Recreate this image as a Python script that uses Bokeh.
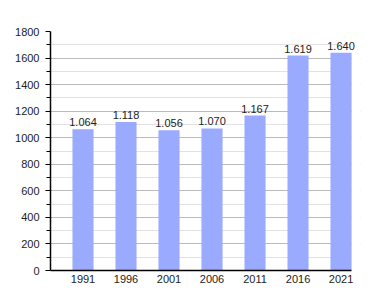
from bokeh.plotting import figure
from bokeh.models import ColumnDataSource, FixedTicker, Range1d, LabelSet, BoxAnnotation
from bokeh.core.properties import value
from bokeh.embed import file_html
from bokeh.resources import INLINE

years = ["1991", "1996", "2001", "2006", "2011", "2016", "2021"]
population = [1064, 1118, 1056, 1070, 1167, 1619, 1640]
y_ticks = [0, 200, 400, 600, 800, 1000, 1200, 1400, 1600, 1800]

xs = list(range(len(years)))
labels = [f"{v:,}".replace(",", ".") for v in population]
src = ColumnDataSource(dict(x=xs, y=population, label=labels))

x_start, x_end = -0.756, 6.244   # plotted area (bars span to x_end)
x_view_end = 6.453               # a little room so the last label is not cut

p = figure(width=380, height=300, output_backend="svg", toolbar_location=None,
           x_range=Range1d(x_start, x_view_end), y_range=Range1d(0, 1800),
           min_border_left=50, min_border_right=20, min_border_top=31,
           min_border_bottom=30)
p.outline_line_color = None
p.background_fill_color = "white"
p.border_fill_color = "white"

# hide grid lines beyond the plotted area
p.add_layout(BoxAnnotation(left=x_end, fill_color="white", fill_alpha=1,
                           line_color=None, level="underlay"))

p.vbar(x="x", top="y", width=0.49, source=src, color="#99aaff", line_color=None)
p.add_layout(LabelSet(x="x", y="y", text="label", source=src, text_align="center",
                      text_baseline="bottom", y_offset=3,
                      text_font=value("Liberation Sans"), text_font_size="11px",
                      text_color="#222222"))

p.xaxis.ticker = FixedTicker(ticks=xs)
p.xaxis.bounds = (x_start, x_end)
p.xaxis.major_label_overrides = {i: y for i, y in enumerate(years)}
p.xaxis.major_tick_line_color = None
p.xaxis.minor_tick_line_color = None
p.xaxis.major_tick_out = 0
p.xaxis.major_tick_in = 0
p.xaxis.axis_line_color = "black"
p.xaxis.axis_line_width = 1.5
p.xaxis.major_label_standoff = 4

p.yaxis.ticker = FixedTicker(ticks=y_ticks, minor_ticks=list(range(100, 1800, 200)))
p.yaxis.axis_line_color = "black"
p.yaxis.axis_line_width = 1.5
p.yaxis.major_tick_out = 5
p.yaxis.major_tick_in = 0
p.yaxis.minor_tick_out = 4
p.yaxis.minor_tick_in = 0
p.yaxis.major_tick_line_color = "black"
p.yaxis.minor_tick_line_color = "black"
p.yaxis.major_label_standoff = 6

for ax in (p.xaxis, p.yaxis):
    ax.major_label_text_font = "Liberation Sans"
    ax.major_label_text_font_size = "11px"
    ax.major_label_text_color = "#222222"

p.xgrid.grid_line_color = None
p.ygrid.grid_line_color = "#bbbbbb"
p.ygrid.minor_grid_line_color = "#e2e2e2"

open("out.html", "w").write(file_html(p, INLINE))
